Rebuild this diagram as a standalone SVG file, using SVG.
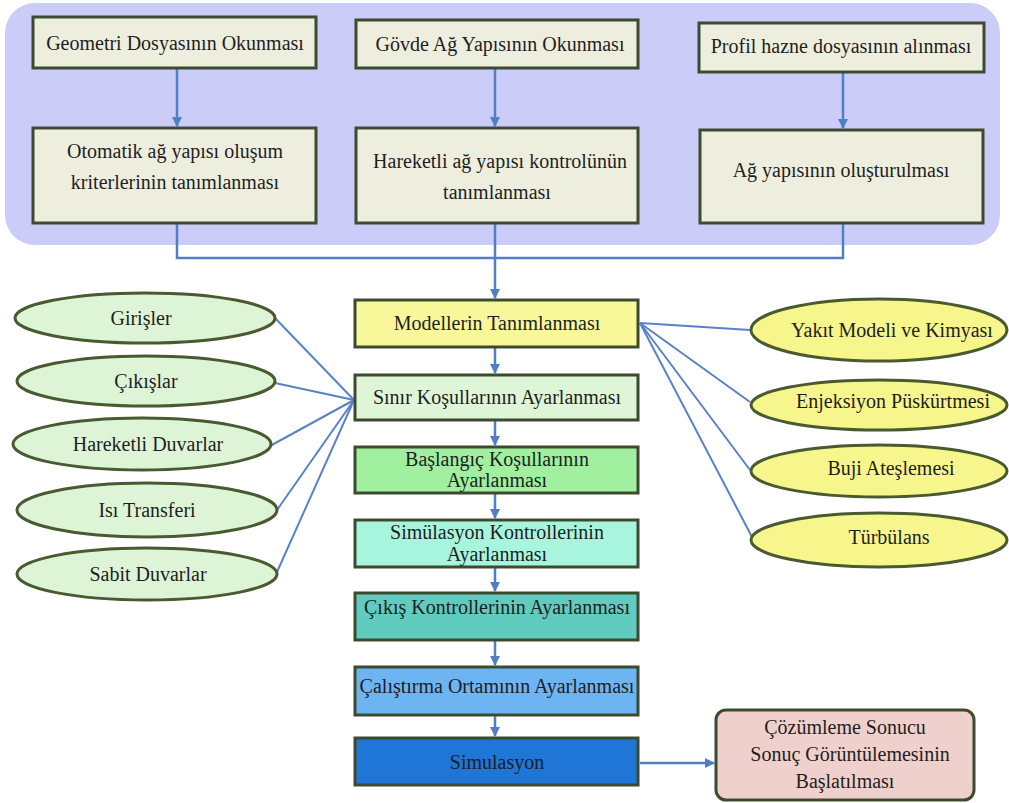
<svg xmlns="http://www.w3.org/2000/svg" width="1009" height="803" viewBox="0 0 1009 803">
<defs>
<marker id="ah" viewBox="0 0 10 10" refX="9" refY="5" markerWidth="4" markerHeight="4" orient="auto" markerUnits="strokeWidth">
<path d="M0,0 L10,5 L0,10 z" fill="#4F7FC4"/>
</marker>
<style>
.box{stroke:#3C4A30;stroke-width:3}
.top{fill:#EEEEDF}
.ell{stroke:#4A5A30;stroke-width:3}
.t{font-family:"Liberation Serif",serif;fill:#1E1E1E;text-anchor:middle;font-size:20px}
.c{stroke:#4F7FC4;stroke-width:2.5;fill:none}
.cl{stroke:#5A82C6;stroke-width:2;fill:none}
</style>
</defs>
<rect width="1009" height="803" fill="#ffffff"/>
<rect id="cluster" x="5" y="3" width="995" height="242" rx="30" fill="#CCCCF8"/>

<g id="connectors">
<line class="c" x1="177" y1="68" x2="177" y2="126" marker-end="url(#ah)"/>
<line class="c" x1="495" y1="68" x2="495" y2="126" marker-end="url(#ah)"/>
<line class="c" x1="843" y1="72" x2="843" y2="128" marker-end="url(#ah)"/>
<polyline class="c" points="177,223 177,258 843,258 843,223"/>
<line class="c" x1="495" y1="223" x2="495" y2="298" marker-end="url(#ah)"/>
<line class="c" x1="495" y1="347" x2="495" y2="373" marker-end="url(#ah)"/>
<line class="c" x1="495" y1="420" x2="495" y2="445" marker-end="url(#ah)"/>
<line class="c" x1="495" y1="493" x2="495" y2="518" marker-end="url(#ah)"/>
<line class="c" x1="495" y1="567" x2="495" y2="591" marker-end="url(#ah)"/>
<line class="c" x1="495" y1="640" x2="495" y2="665" marker-end="url(#ah)"/>
<line class="c" x1="495" y1="715" x2="495" y2="736" marker-end="url(#ah)"/>
<line class="c" x1="640" y1="763" x2="714" y2="763" marker-end="url(#ah)"/>
<line class="cl" x1="275" y1="318" x2="354" y2="400"/>
<line class="cl" x1="275" y1="383" x2="354" y2="400"/>
<line class="cl" x1="270" y1="446" x2="354" y2="400"/>
<line class="cl" x1="277" y1="510" x2="354" y2="400"/>
<line class="cl" x1="277" y1="572" x2="354" y2="400"/>
<line class="cl" x1="640" y1="323" x2="750" y2="330"/>
<line class="cl" x1="640" y1="323" x2="750" y2="402"/>
<line class="cl" x1="640" y1="323" x2="750" y2="470"/>
<line class="cl" x1="640" y1="323" x2="752" y2="537"/>
</g>

<g id="n1"><rect class="box top" x="33" y="17" width="283" height="51"/><text class="t" x="175" y="50">Geometri Dosyasının Okunması</text></g>
<g id="n2"><rect class="box top" x="356" y="20" width="282" height="48"/><text class="t" x="500" y="51">Gövde Ağ Yapısının Okunması</text></g>
<g id="n3"><rect class="box top" x="699" y="23" width="285" height="49"/><text class="t" x="841" y="53">Profil hazne dosyasının alınması</text></g>
<g id="n4"><rect class="box top" x="33" y="128" width="283" height="95"/><text class="t" x="175" y="158">Otomatik ağ yapısı oluşum</text><text class="t" x="175" y="189">kriterlerinin tanımlanması</text></g>
<g id="n5"><rect class="box top" x="356" y="128" width="282" height="95"/><text class="t" x="500" y="168">Hareketli ağ yapısı kontrolünün</text><text class="t" x="497" y="199">tanımlanması</text></g>
<g id="n6"><rect class="box top" x="700" y="130" width="283" height="93"/><text class="t" x="841" y="177">Ağ yapısının oluşturulması</text></g>

<g id="m1"><rect class="box" x="355" y="300" width="283" height="47" fill="#F8F89A"/><text class="t" x="497" y="330">Modellerin Tanımlanması</text></g>
<g id="m2"><rect class="box" x="355" y="375" width="283" height="45" fill="#DFF5D8"/><text class="t" x="497" y="404">Sınır Koşullarının Ayarlanması</text></g>
<g id="m3"><rect class="box" x="355" y="447" width="283" height="46" fill="#A0F0A0"/><text class="t" x="497" y="466">Başlangıç Koşullarının</text><text class="t" x="497" y="487">Ayarlanması</text></g>
<g id="m4"><rect class="box" x="355" y="520" width="283" height="47" fill="#A8F5DE"/><text class="t" x="497" y="539">Simülasyon Kontrollerinin</text><text class="t" x="497" y="561">Ayarlanması</text></g>
<g id="m5"><rect class="box" x="355" y="593" width="283" height="47" fill="#62CBC0"/><text class="t" x="497" y="614">Çıkış Kontrollerinin Ayarlanması</text></g>
<g id="m6"><rect class="box" x="355" y="667" width="283" height="48" fill="#6CB4F2"/><text class="t" x="497" y="693">Çalıştırma Ortamının Ayarlanması</text></g>
<g id="m7"><rect class="box" x="355" y="738" width="283" height="47" fill="#1F76D6"/><text class="t" x="497" y="769">Simulasyon</text></g>
<g id="m8"><rect class="box" x="716" y="710" width="258" height="90" rx="10" fill="#F0D0CC"/><text class="t" x="845" y="734">Çözümleme Sonucu</text><text class="t" x="850" y="761">Sonuç Görüntülemesinin</text><text class="t" x="845" y="788">Başlatılması</text></g>

<g id="l1"><ellipse class="ell" cx="145" cy="318" rx="130" ry="25" fill="#DDF5D6"/><text class="t" x="141" y="325">Girişler</text></g>
<g id="l2"><ellipse class="ell" cx="146" cy="381" rx="129" ry="25" fill="#DDF5D6"/><text class="t" x="146" y="388">Çıkışlar</text></g>
<g id="l3"><ellipse class="ell" cx="142" cy="444" rx="129" ry="26" fill="#DDF5D6"/><text class="t" x="148" y="451">Hareketli Duvarlar</text></g>
<g id="l4"><ellipse class="ell" cx="147" cy="510" rx="130" ry="27" fill="#DDF5D6"/><text class="t" x="147" y="517">Isı Transferi</text></g>
<g id="l5"><ellipse class="ell" cx="147" cy="574" rx="130" ry="26" fill="#DDF5D6"/><text class="t" x="148" y="581">Sabit Duvarlar</text></g>

<g id="r1"><ellipse class="ell" cx="879" cy="330" rx="128" ry="31" fill="#F6F68C"/><text class="t" x="892" y="337">Yakıt Modeli ve Kimyası</text></g>
<g id="r2"><ellipse class="ell" cx="879" cy="405" rx="128" ry="25" fill="#F6F68C"/><text class="t" x="893" y="408">Enjeksiyon Püskürtmesi</text></g>
<g id="r3"><ellipse class="ell" cx="879" cy="471" rx="128" ry="26" fill="#F6F68C"/><text class="t" x="891" y="475">Buji Ateşlemesi</text></g>
<g id="r4"><ellipse class="ell" cx="879" cy="540" rx="128" ry="27" fill="#F6F68C"/><text class="t" x="889" y="544">Türbülans</text></g>
</svg>
